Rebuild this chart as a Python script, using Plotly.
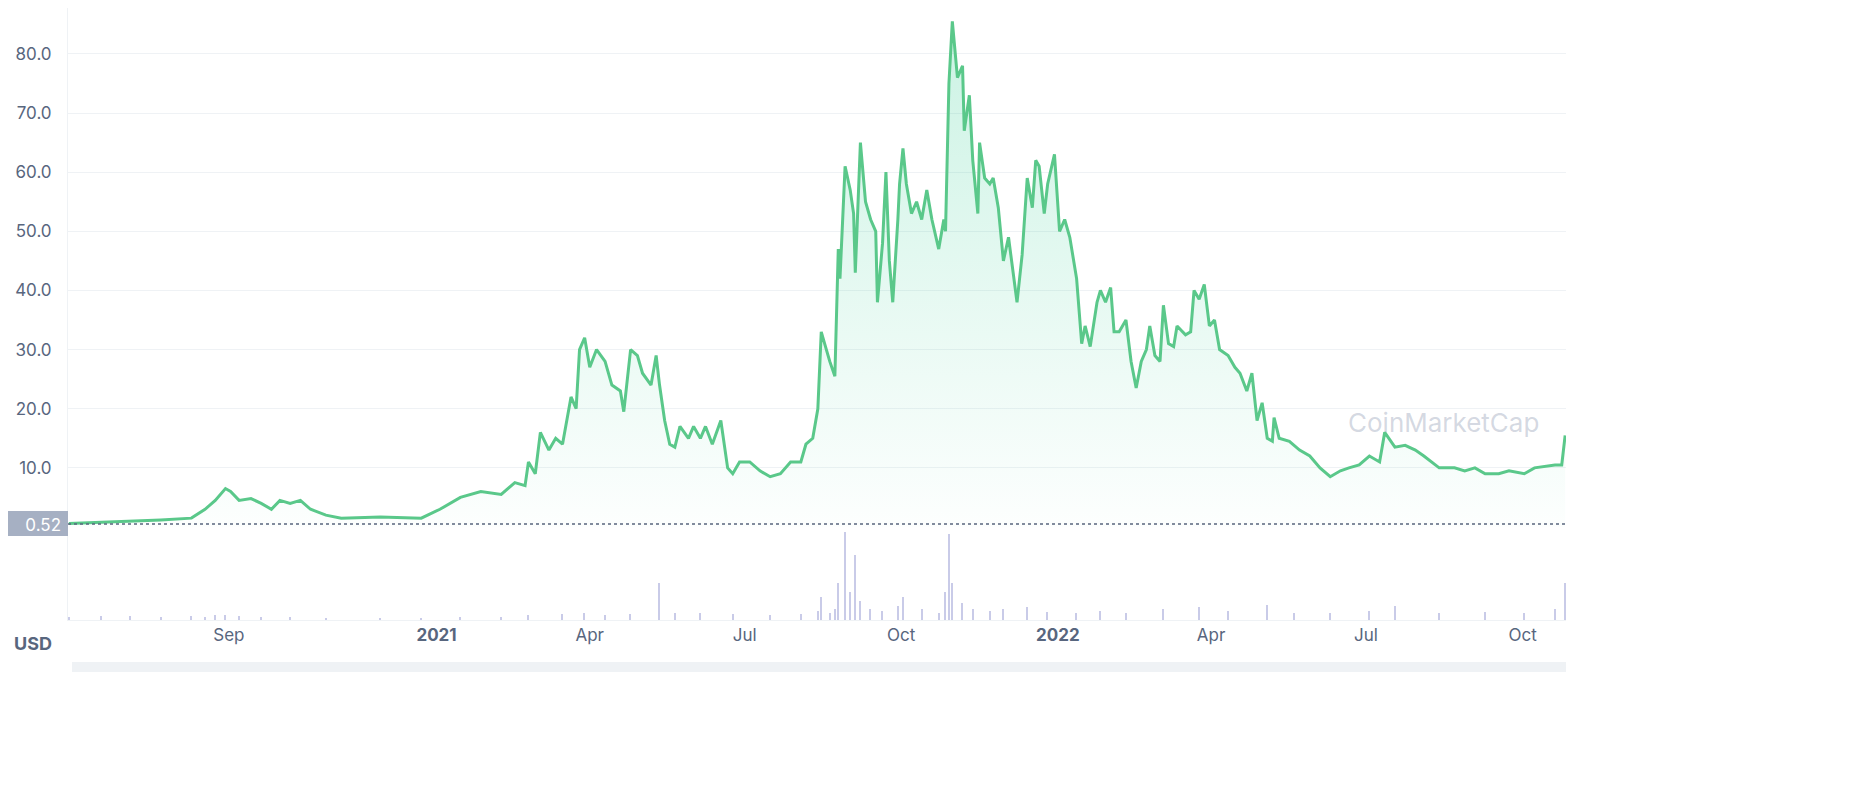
import plotly.graph_objects as go
import pandas as pd

start = pd.Timestamp("2020-05-30")
day = [0,19,36,54,72,80,86,92,95,100,107,113,119,124,130,136,142,151,160,183,207,218,230,242,254,262,268,270,274,277,282,286,290,295,298,300,303,306,310,315,319,324,326,330,334,337,342,345,347,350,353,356,359,364,367,371,374,378,383,387,390,394,400,406,412,418,424,430,433,437,440,442,445,447,450,452,453,456,459,461,462,465,468,471,474,475,478,480,482,484,487,488,490,492,495,498,501,504,507,511,514,515,517,519,522,525,526,529,531,534,535,538,541,543,546,549,552,555,557,560,563,566,568,570,573,575,579,582,585,588,592,595,597,600,604,606,609,612,614,617,621,624,627,630,633,635,638,641,643,646,649,651,656,659,661,664,667,670,673,676,681,685,688,692,695,698,701,704,707,708,711,717,723,729,735,741,747,752,758,764,770,773,779,785,791,796,805,814,820,826,832,840,846,855,861,873,877,879]
price = [0.6,0.8,1.0,1.2,1.5,3,4.5,6.5,6,4.5,4.8,4,3,4.5,4,4.5,3,2,1.5,1.7,1.5,3,5,6,5.5,7.5,7,11,9,16,13,15,14,22,20,30,32,27,30,28,24,23,19.5,30,29,26,24,29,24,18,14,13.5,17,15,17,15,17,14,18,10,9,11,11,9.5,8.5,9,11,11,14,15,20,33,30,28,25.5,47,42,61,57,53,43,65,55,52,50,38,48,60,45,38,52,58,64,58,53,55,52,57,52,47,52,50,75,85.5,76,78,67,73,62,53,65,59,58,59,54,45,49,42,38,46,59,54,62,61,53,58,63,50,52,49,42,31,34,30.5,38,40,38,40.5,33,33,35,28,23.5,28,30,34,29,28,37.5,31,30.5,34,32.5,33,40,38.5,41,34,35,30,29,27,26,23,26,18,21,15,14.5,18.5,15,14.5,13,12,10,8.5,9.5,10,10.5,12,11,16,13.5,13.8,13,12,10,10,9.5,10,9,9,9.5,9,10,10.5,10.5,15.5]

vol_day = [0,19,36,54,72,80,86,92,100,113,130,151,183,207,230,254,270,290,303,315,330,347,356,371,390,412,430,440,442,447,450,452,456,459,462,465,471,478,487,490,501,511,515,517,519,525,531,541,549,563,575,592,606,621,643,664,681,704,720,741,764,779,805,832,855,873,879]
volume = [3,4,4,3,4,3,5,5,4,3,3,2,2,2,3,3,5,6,7,5,6,40,8,7,6,5,6,10,25,8,12,40,95,30,70,20,12,10,15,25,12,8,30,92,40,18,12,10,12,14,9,8,10,7,12,14,10,16,8,7,10,15,8,9,8,12,40]

dates = [start + pd.Timedelta(days=d) for d in day]
vdates = [start + pd.Timedelta(days=d) for d in vol_day]

tickvals = ["2020-09-01","2021-01-01","2021-04-01","2021-07-01","2021-10-01","2022-01-01","2022-04-01","2022-07-01","2022-10-01"]
ticktext = ["Sep","<b>2021</b>","Apr","Jul","Oct","<b>2022</b>","Apr","Jul","Oct"]

H = 612.0
W = 1498.0
def py(p): return (620 - p) / H
def px(p): return (p - 68) / W

fig = go.Figure()
fig.add_trace(go.Scatter(x=dates, y=price, mode="lines", line=dict(color="#5ac88a", width=3),
    fill="tozeroy", fillgradient=dict(type="vertical",
        colorscale=[[0,"rgba(22,199,132,0.01)"],[1,"rgba(22,199,132,0.22)"]]),
    xaxis="x", yaxis="y", hoverinfo="skip"))
fig.add_trace(go.Bar(x=vdates, y=volume, marker=dict(color="#c9cbe8", line=dict(width=0)),
    width=86400000*0.8, xaxis="x2", yaxis="y2"))

xr = [start - pd.Timedelta(hours=12), start + pd.Timedelta(days=879.5)]
font = dict(family="Inter", size=17, color="#58667e")
fig.update_layout(
    width=1856, height=794, margin=dict(l=60, r=298, t=0, b=182),
    paper_bgcolor="white", plot_bgcolor="white", showlegend=False, bargap=0,
    font=font,
    xaxis=dict(range=xr, showticklabels=False, showgrid=False, zeroline=False, anchor="y"),
    xaxis2=dict(range=xr, tickvals=tickvals, ticktext=ticktext, showgrid=False,
                zeroline=False, anchor="y2", ticks="", showline=True, linecolor="#eff2f5",
                tickfont=font),
    yaxis=dict(domain=[py(527),1], range=[0,87.76], tickvals=[10,20,30,40,50,60,70,80],
               ticktext=["10.0","20.0","30.0","40.0","50.0","60.0","70.0","80.0"],
               gridcolor="#eff2f5", zeroline=False, showline=True, linecolor="#eff2f5",
               ticks="outside", ticklen=12, tickcolor="white", tickfont=font),
    yaxis2=dict(domain=[0,py(527)], range=[0,100], showticklabels=False, showgrid=False,
                zeroline=False, showline=True, linecolor="#eff2f5"),
)
fig.add_hline(y=0.52, line=dict(color="#58667e", width=1.5, dash="dot"), yref="y")
fig.add_shape(type="rect", xref="paper", yref="paper", x0=px(0), x1=px(68), y0=py(536), y1=py(511),
              fillcolor="#a6b0c3", line=dict(width=0),
              label=dict(text="0.52", font=dict(family="Inter", size=17, color="white"),
                         textposition="middle right", padding=4))
fig.add_annotation(xref="paper", yref="paper", x=px(12), y=py(643), text="<b>USD</b>", showarrow=False,
                   xanchor="left", yanchor="middle", font=dict(family="Inter", size=18, color="#58667e"))
fig.add_shape(type="rect", xref="paper", yref="paper", x0=px(72), x1=1, y0=py(672), y1=py(662),
              fillcolor="#eff2f5", line=dict(width=0))
fig.add_annotation(xref="paper", yref="paper", x=px(1346), y=py(440), text="CoinMarketCap",
                   showarrow=False, xanchor="left", font=dict(family="Inter", size=26, color="rgba(160,170,190,0.45)"))
fig.write_html("out.html")
